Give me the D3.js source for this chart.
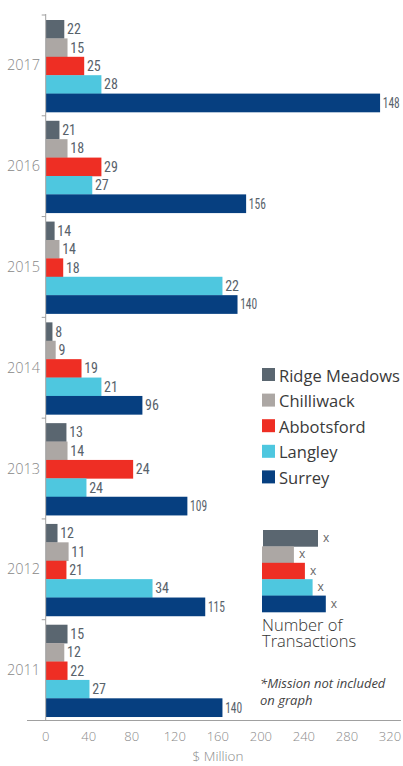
<!DOCTYPE html>
<html><head><meta charset="utf-8">
<script src="https://cdn.jsdelivr.net/npm/d3@7"></script>
<style>
html,body{margin:0;padding:0;background:#fff;}
svg{display:block;}
.val{font-family:"Liberation Sans Narrow","Roboto Condensed","DejaVu Sans Condensed",sans-serif;font-size:14px;fill:#58626b;}
</style></head>
<body>
<script>
// ---- data ----
const years = ["2017","2016","2015","2014","2013","2012","2011"];
const regions = ["Ridge Meadows","Chilliwack","Abbotsford","Langley","Surrey"];
const colors = ["#5a6670","#aca7a4","#ee2e24","#4ec7df","#063f80"];
// $ Million (bar lengths), per region, in year order above
const ridgeMeadowsM = [17, 12.5, 8, 6, 19, 10.7, 20];
const chilliwackM   = [20, 20, 12.5, 9, 20, 21, 17];
const abbotsfordM   = [35.5, 51.5, 16, 33, 81, 19, 20];
const langleyM      = [51.5, 43, 164, 51.5, 37.6, 99, 40.4];
const surreyM       = [310.5, 186, 178, 89.6, 131.4, 148, 164];
// Number of transactions (labels)
const ridgeMeadowsN = [22, 21, 14, 8, 13, 12, 15];
const chilliwackN   = [15, 18, 14, 9, 14, 11, 12];
const abbotsfordN   = [25, 29, 18, 19, 24, 21, 22];
const langleyN      = [28, 27, 22, 21, 24, 34, 27];
const surreyN       = [148, 156, 140, 96, 109, 115, 140];
const xTicks = [0,40,80,120,160,200,240,280,320];
const xTitle = "$ Million";
const sampleLengths = [50, 29, 39, 46, 58]; // illustrative legend bars
const sampleLabel = "x";

const valuesM = [ridgeMeadowsM, chilliwackM, abbotsfordM, langleyM, surreyM];
const valuesN = [ridgeMeadowsN, chilliwackN, abbotsfordN, langleyN, surreyN];

const W = 403, H = 766;
const svg = d3.select("body").append("svg").attr("width", W).attr("height", H);

const x = d3.scaleLinear().domain([0, 320]).range([45.7, 390]);
const y = d3.scaleBand().domain(years).range([15, 720.5]).padding(0);
const inner = d3.scaleBand().domain(regions).range([5, 97]).padding(0);

// bars
const groups = svg.selectAll("g.year").data(years).join("g")
  .attr("class","year")
  .attr("transform", d => `translate(0,${y(d)})`);

groups.each(function(yr, yi){
  const g = d3.select(this);
  const rows = regions.map((r, ri) => ({r, ri, m: valuesM[ri][yi], n: valuesN[ri][yi]}));
  g.selectAll("rect").data(rows).join("rect")
    .attr("x", x(0) + 0.3)
    .attr("y", d => inner(d.r))
    .attr("width", d => x(d.m) - x(0))
    .attr("height", inner.bandwidth() + 0.3)
    .attr("fill", d => colors[d.ri]);
  g.selectAll("text.val").data(rows).join("text")
    .attr("class","val")
    .attr("x", d => x(d.m) + 3)
    .attr("y", d => inner(d.r) + inner.bandwidth()/2 + 5)
    .attr("textLength", d => d.n >= 100 ? 17 : null)
    .attr("lengthAdjust", "spacingAndGlyphs")
    .text(d => d.n);
});

// y axis line & ticks
svg.append("line").attr("x1", x(0)).attr("x2", x(0)).attr("y1", 14).attr("y2", 720.5)
  .attr("stroke","#a0a0a0").attr("stroke-width",1);
const bounds = years.map(d => y(d)).concat([y.range()[1]]);
svg.selectAll("line.ytick").data(bounds).join("line")
  .attr("x1", x(0) - 4).attr("x2", x(0)).attr("y1", d => d).attr("y2", d => d)
  .attr("stroke","#a0a0a0").attr("stroke-width",1);
svg.selectAll("text.year").data(years).join("text")
  .attr("x", 40).attr("y", d => y(d) + y.bandwidth()/2 + 5)
  .attr("text-anchor","end")
  .attr("font-family","Open Sans, sans-serif").attr("font-weight",300)
  .attr("font-size","14.5px").attr("fill","#888")
  .text(d => d);

// x axis
svg.append("line").attr("x1", 27).attr("x2", 401).attr("y1", 720.5).attr("y2", 720.5)
  .attr("stroke","#a0a0a0").attr("stroke-width",1);
svg.selectAll("text.xt").data(xTicks).join("text")
  .attr("x", d => x(d)).attr("y", 741)
  .attr("text-anchor","middle")
  .attr("font-family","Open Sans, sans-serif").attr("font-weight",300)
  .attr("font-size","13px").attr("fill","#8a8a8a")
  .text(d => d);
svg.append("text").attr("x", 218).attr("y", 761).attr("text-anchor","middle")
  .attr("font-family","Open Sans, sans-serif").attr("font-weight",300)
  .attr("font-size","13.5px").attr("fill","#8a8a8a").text(xTitle);

// legend
const lg = svg.append("g").attr("transform","translate(262,368)");
regions.forEach((r, i) => {
  lg.append("rect").attr("x",0).attr("y", i*25.6).attr("width",13).attr("height",13).attr("fill",colors[i]);
  lg.append("text").attr("x",17).attr("y", i*25.6 + 13.5)
    .attr("font-family","Open Sans, sans-serif").attr("font-size","16.5px").attr("fill","#3a3a3a")
    .text(r);
});

// sample "Number of Transactions" legend
const s = d3.scaleLinear().domain([0, 60]).range([0, 66]);
const sg = svg.append("g").attr("transform","translate(262,530)");
const sh = 16.4;
sampleLengths.forEach((v, i) => {
  sg.append("rect").attr("x", i === 0 ? 1 : 0).attr("y", i*sh).attr("width", s(v)).attr("height", sh + 0.3).attr("fill", colors[i]);
  sg.append("text").attr("x", s(v) + 5 + (i===0?1:0)).attr("y", i*sh + 12)
    .attr("font-family","Open Sans, sans-serif").attr("font-size","12px").attr("fill","#666")
    .text(sampleLabel);
});
svg.append("text").attr("x",262).attr("y",631)
  .attr("font-family","Open Sans, sans-serif").attr("font-weight",300).attr("font-size","16.5px").attr("fill","#333")
  .text("Number of");
svg.append("text").attr("x",262).attr("y",647)
  .attr("font-family","Open Sans, sans-serif").attr("font-weight",300).attr("font-size","16.5px").attr("fill","#333")
  .text("Transactions");
svg.append("text").attr("x",260).attr("y",688)
  .attr("font-family","Open Sans, sans-serif").attr("font-style","italic").attr("font-size","13px").attr("fill","#444")
  .text("*Mission not included");
svg.append("text").attr("x",260).attr("y",705)
  .attr("font-family","Open Sans, sans-serif").attr("font-style","italic").attr("font-size","13px").attr("fill","#444")
  .text("on graph");
</script>
</body></html>
